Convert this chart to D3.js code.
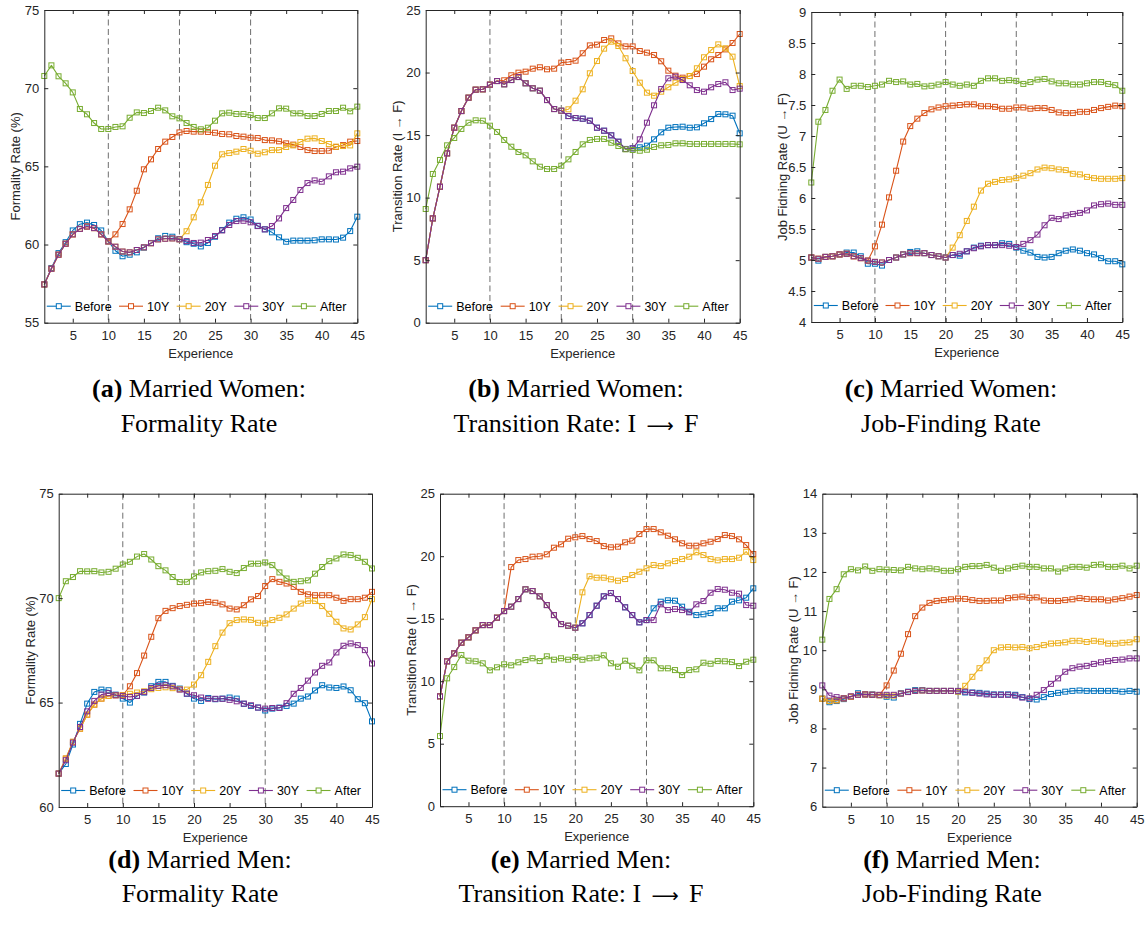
<!DOCTYPE html>
<html>
<head>
<meta charset="utf-8">
<script src="https://cdn.jsdelivr.net/npm/d3@7/dist/d3.min.js"></script>
<style>
  html, body { margin: 0; padding: 0; background: #ffffff; }
  svg { display: block; }
</style>
</head>
<body>
<svg id="chart" width="1145" height="933"></svg>
<script>
// ---------- data ----------
const experience = [1,2,3,4,5,6,7,8,9,10,11,12,13,14,15,16,17,18,19,20,21,22,23,24,25,
  26,27,28,29,30,31,32,33,34,35,36,37,38,39,40,41,42,43,44,45];
const seriesNames = ["Before", "10Y", "20Y", "30Y", "After"];
const xTicks = [5, 10, 15, 20, 25, 30, 35, 40, 45];
const reformLines = [10, 20, 30];

// Married women: formality rate (%)
const womenFormBefore = [57.45,58.5,59.45,60.15,60.9,61.3,61.4,61.25,60.9,60.2,
  59.6,59.25,59.35,59.5,59.8,60.1,60.4,60.55,60.5,60.35,
  60.15,60.05,59.88,60.1,60.5,60.93,61.4,61.65,61.74,61.6,
  61.2,60.97,60.78,60.46,60.18,60.25,60.25,60.25,60.27,60.33,
  60.33,60.32,60.44,60.86,61.78];
const womenForm10Y = [57.45,58.45,59.35,60.05,60.65,61.0,61.15,61.05,60.65,60.2,
  60.65,61.31,62.25,63.44,64.81,65.45,66.11,66.58,66.88,67.17,
  67.26,67.22,67.22,67.2,67.15,67.07,67.05,66.94,66.9,66.83,
  66.81,66.68,66.66,66.6,66.47,66.39,66.24,66.04,65.98,65.98,
  66.0,66.24,66.36,66.58,66.62];
const womenForm20Y = [57.45,58.45,59.35,60.05,60.65,61.0,61.15,61.05,60.65,60.2,
  59.86,59.55,59.5,59.65,59.82,60.08,60.33,60.37,60.39,60.33,
  60.85,61.74,62.7,63.81,65.04,65.77,65.85,65.94,66.11,66.0,
  65.81,65.9,66.04,66.04,66.24,66.34,66.56,66.77,66.79,66.62,
  66.43,66.26,66.3,66.34,67.11];
const womenForm30Y = [57.45,58.45,59.35,60.05,60.65,61.0,61.15,61.05,60.65,60.2,
  59.86,59.55,59.5,59.65,59.82,60.08,60.33,60.37,60.39,60.33,
  60.22,60.1,60.12,60.29,60.54,60.9,61.25,61.5,61.52,61.42,
  61.18,60.97,61.18,61.67,62.33,62.85,63.49,63.93,64.1,64.02,
  64.36,64.62,64.66,64.87,64.98];
const womenFormAfter = [70.78,71.46,70.76,70.31,69.73,68.67,68.33,67.77,67.39,67.39,
  67.52,67.56,68.11,68.45,68.41,68.54,68.75,68.58,68.2,68.07,
  67.77,67.52,67.37,67.47,67.92,68.39,68.43,68.35,68.35,68.28,
  68.09,68.09,68.39,68.71,68.69,68.39,68.39,68.22,68.22,68.35,
  68.54,68.54,68.75,68.52,68.82];

// Married women: transition rate I -> F
const womenTransBefore = [5.0,8.34,10.87,13.54,15.59,16.92,17.99,18.63,18.66,19.03,
  19.32,19.06,19.4,19.64,19.14,18.74,18.55,17.8,17.08,16.95,
  16.52,16.36,16.31,16.15,15.59,15.35,14.98,14.47,13.89,13.94,
  14.02,14.15,14.66,15.22,15.59,15.64,15.67,15.59,15.62,15.94,
  16.28,16.68,16.66,16.55,15.14];
const womenTrans10Y = [5.0,8.34,10.87,13.54,15.59,16.92,17.99,18.63,18.66,19.03,
  19.32,19.38,19.78,19.99,20.07,20.31,20.42,20.26,20.31,20.79,
  20.84,20.95,21.54,22.17,22.23,22.6,22.73,22.33,22.09,22.09,
  21.72,21.59,21.4,20.9,20.15,19.75,19.59,19.72,19.88,20.47,
  21.06,21.4,21.85,22.36,23.08];
const womenTrans20Y = [5.0,8.34,10.87,13.54,15.59,16.92,17.99,18.63,18.66,19.03,
  19.32,19.06,19.4,19.64,19.14,18.74,18.55,17.8,17.08,16.95,
  17.06,17.75,18.66,19.94,20.92,21.91,22.47,22.12,21.14,20.12,
  19.19,18.39,18.15,18.47,18.82,19.19,19.48,19.72,20.34,21.22,
  21.8,22.25,21.94,21.27,18.92];
const womenTrans30Y = [5.0,8.34,10.87,13.54,15.59,16.92,17.99,18.63,18.66,19.03,
  19.32,19.06,19.4,19.64,19.14,18.74,18.55,17.8,17.08,16.95,
  16.52,16.36,16.31,16.15,15.59,15.35,14.98,14.47,13.89,13.94,
  14.66,15.99,17.38,18.68,19.54,19.67,19.4,18.98,18.6,18.47,
  18.82,19.08,19.22,18.6,18.71];
const womenTransAfter = [9.09,11.89,13.01,14.18,14.77,15.49,15.99,16.18,16.15,15.75,
  15.25,14.61,14.07,13.65,13.38,12.9,12.47,12.29,12.29,12.55,
  13.06,13.65,14.26,14.61,14.69,14.69,14.39,14.13,13.86,13.81,
  13.75,13.83,14.05,14.18,14.21,14.34,14.34,14.29,14.29,14.29,
  14.29,14.29,14.29,14.29,14.26];

// Married women: job-finding rate U -> F
const womenJobBefore = [5.04,4.99,5.05,5.06,5.09,5.12,5.12,5.06,4.94,4.94,
  4.91,5.0,5.04,5.09,5.13,5.14,5.11,5.08,5.06,5.04,
  5.08,5.07,5.14,5.2,5.23,5.24,5.24,5.27,5.26,5.2,
  5.15,5.12,5.05,5.04,5.05,5.11,5.15,5.17,5.15,5.11,
  5.09,5.03,4.98,4.98,4.93];
const womenJob10Y = [5.04,5.02,5.05,5.06,5.09,5.1,5.06,5.03,4.99,5.22,
  5.57,6.01,6.44,6.91,7.16,7.28,7.37,7.43,7.46,7.48,
  7.49,7.5,7.51,7.51,7.48,7.48,7.47,7.44,7.44,7.46,
  7.46,7.44,7.45,7.45,7.42,7.38,7.37,7.37,7.39,7.39,
  7.42,7.45,7.47,7.49,7.48];
const womenJob20Y = [5.04,5.02,5.05,5.06,5.09,5.1,5.06,5.03,4.99,4.97,
  4.96,5.0,5.04,5.09,5.11,5.11,5.11,5.08,5.06,5.04,
  5.2,5.4,5.63,5.86,6.12,6.23,6.26,6.29,6.3,6.32,
  6.36,6.4,6.46,6.49,6.48,6.46,6.45,6.39,6.38,6.34,
  6.32,6.31,6.31,6.31,6.32];
const womenJob30Y = [5.04,5.02,5.05,5.06,5.09,5.1,5.06,5.03,4.99,4.97,
  4.96,5.0,5.04,5.09,5.11,5.11,5.11,5.08,5.06,5.04,
  5.08,5.1,5.14,5.19,5.22,5.24,5.24,5.24,5.23,5.21,
  5.26,5.32,5.41,5.56,5.68,5.66,5.72,5.74,5.76,5.8,
  5.88,5.9,5.91,5.89,5.89];
const womenJobAfter = [6.25,7.23,7.42,7.73,7.91,7.76,7.81,7.81,7.79,7.81,
  7.83,7.89,7.87,7.88,7.83,7.84,7.8,7.81,7.83,7.87,
  7.83,7.81,7.83,7.81,7.89,7.93,7.93,7.89,7.9,7.89,
  7.84,7.87,7.91,7.92,7.88,7.85,7.85,7.83,7.83,7.85,
  7.87,7.87,7.84,7.82,7.73];

// Married men: formality rate (%)
const menFormBefore = [61.6,62.06,62.99,63.98,64.95,65.51,65.62,65.59,65.38,65.19,
  65.0,65.32,65.48,65.78,65.99,65.99,65.8,65.67,65.42,65.19,
  65.08,65.22,65.16,65.19,65.24,65.19,64.94,64.84,64.76,64.62,
  64.71,64.76,64.84,64.95,65.19,65.29,65.58,65.83,65.72,65.7,
  65.77,65.59,65.16,64.97,64.1];
const menForm10Y = [61.6,62.32,63.12,63.75,64.42,64.9,65.19,65.32,65.35,65.35,
  65.78,66.41,67.25,68.15,69.04,69.39,69.52,69.62,69.68,69.74,
  69.76,69.82,69.78,69.7,69.5,69.46,69.66,69.94,70.1,70.58,
  70.91,70.78,70.7,70.54,70.3,70.18,70.14,70.14,70.14,70.02,
  69.87,69.95,69.95,70.02,70.3];
const menForm20Y = [61.6,62.32,63.12,63.75,64.42,64.9,65.19,65.32,65.35,65.35,
  65.42,65.48,65.54,65.64,65.7,65.73,65.69,65.64,65.62,65.86,
  66.31,66.95,67.7,68.35,68.8,68.95,68.98,68.96,68.82,68.79,
  68.95,69.06,69.22,69.5,69.74,69.87,69.86,69.62,69.25,68.87,
  68.55,68.5,68.74,69.09,69.95];
const menForm30Y = [61.6,62.24,63.08,63.83,64.58,65.08,65.38,65.45,65.35,65.32,
  65.27,65.32,65.5,65.7,65.8,65.83,65.77,65.62,65.43,65.35,
  65.24,65.18,65.18,65.18,65.13,65.06,64.95,64.87,64.76,64.71,
  64.74,64.74,64.97,65.42,65.7,66.05,66.44,66.76,66.92,67.4,
  67.72,67.83,67.75,67.51,66.87];
const menFormAfter = [70.0,70.81,71.01,71.29,71.28,71.29,71.23,71.26,71.41,71.61,
  71.74,71.99,72.11,71.85,71.53,71.33,71.01,70.77,70.78,71.04,
  71.23,71.29,71.31,71.39,71.26,71.2,71.44,71.65,71.65,71.71,
  71.58,71.23,70.94,70.78,70.81,70.85,71.17,71.49,71.77,71.9,
  72.09,72.06,71.93,71.74,71.42];

// Married men: transition rate I -> F
const menTransBefore = [8.79,11.59,12.23,13.08,13.51,14.07,14.49,14.49,15.08,15.61,
  15.96,16.57,17.35,17.21,16.79,16.09,15.29,14.57,14.44,14.28,
  14.63,15.29,16.04,16.79,17.05,16.57,15.91,15.29,14.71,14.89,
  15.83,16.36,16.47,16.44,15.96,15.56,15.29,15.35,15.45,15.83,
  15.83,16.36,16.47,16.68,17.43];
const menTrans10Y = [8.79,11.59,12.23,13.08,13.51,14.07,14.49,14.49,15.08,15.61,
  19.13,19.69,19.77,19.96,19.99,20.15,20.68,20.95,21.4,21.51,
  21.61,21.37,21.21,20.81,20.71,20.76,21.11,21.24,21.77,22.17,
  22.17,21.91,21.64,21.35,21.03,20.84,20.84,21.03,21.16,21.37,
  21.69,21.61,21.35,20.89,20.17];
const menTrans20Y = [8.79,11.59,12.23,13.08,13.51,14.07,14.49,14.49,15.08,15.61,
  15.96,16.57,17.35,17.21,16.79,16.09,15.29,14.57,14.44,14.28,
  17.11,18.39,18.28,18.28,18.15,18.04,18.17,18.49,18.76,19.03,
  19.29,19.21,19.43,19.61,19.77,19.96,20.31,20.09,19.77,19.67,
  19.77,19.77,19.88,20.36,19.69];
const menTrans30Y = [8.79,11.59,12.23,13.08,13.51,14.07,14.49,14.49,15.08,15.61,
  15.96,16.57,17.35,17.21,16.79,16.09,15.29,14.57,14.44,14.28,
  14.63,15.29,16.04,16.79,17.05,16.57,15.91,15.29,14.71,14.89,
  14.89,16.15,15.69,15.77,15.69,15.51,16.15,16.41,17.08,17.37,
  17.32,17.08,17.0,16.09,16.04];
const menTransAfter = [5.61,10.23,11.13,12.09,11.64,11.59,11.43,10.87,11.11,11.35,
  11.27,11.51,11.69,11.83,11.61,11.99,11.72,11.83,11.72,11.93,
  11.72,11.83,11.88,12.07,11.43,11.16,11.64,11.24,10.87,11.67,
  11.67,11.03,11.03,10.89,10.49,10.89,10.95,11.48,11.4,11.61,
  11.59,11.53,11.21,11.56,11.72];

// Married men: job-finding rate U -> F
const menJobBefore = [8.76,8.67,8.7,8.75,8.81,8.9,8.87,8.87,8.85,8.81,
  8.79,8.9,8.94,8.98,8.98,8.96,8.96,8.96,8.96,8.94,
  8.92,8.92,8.91,8.89,8.87,8.87,8.87,8.86,8.8,8.75,
  8.74,8.8,8.88,8.91,8.94,8.96,8.97,8.96,8.96,8.96,
  8.96,8.96,8.94,8.96,8.94];
const menJob10Y = [8.76,8.7,8.72,8.77,8.81,8.86,8.87,8.86,8.85,9.1,
  9.48,9.91,10.41,10.87,11.09,11.21,11.26,11.28,11.3,11.32,
  11.31,11.28,11.26,11.26,11.27,11.27,11.33,11.35,11.37,11.34,
  11.35,11.27,11.26,11.26,11.28,11.3,11.33,11.31,11.3,11.3,
  11.27,11.3,11.33,11.37,11.41];
const menJob20Y = [8.76,8.7,8.72,8.77,8.81,8.86,8.87,8.86,8.85,8.84,
  8.84,8.89,8.93,8.96,8.97,8.96,8.96,8.96,8.96,8.94,
  9.09,9.32,9.54,9.74,10.0,10.07,10.08,10.07,10.08,10.05,
  10.08,10.13,10.17,10.18,10.2,10.24,10.24,10.21,10.24,10.22,
  10.17,10.17,10.19,10.2,10.28];
const menJob30Y = [9.1,8.84,8.8,8.77,8.82,8.86,8.87,8.86,8.86,8.86,
  8.86,8.89,8.93,8.96,8.97,8.96,8.96,8.96,8.96,8.96,
  8.94,8.91,8.89,8.87,8.86,8.86,8.86,8.84,8.79,8.77,
  8.86,8.98,9.14,9.28,9.45,9.54,9.58,9.6,9.65,9.69,
  9.72,9.75,9.76,9.79,9.79];
const menJobAfter = [10.27,11.31,11.56,11.94,12.07,12.04,12.14,12.03,12.07,12.06,
  12.05,12.04,12.13,12.09,12.07,12.09,12.07,12.03,12.03,12.07,
  12.13,12.15,12.15,12.18,12.11,12.03,12.09,12.13,12.16,12.13,
  12.13,12.09,12.09,12.01,12.09,12.13,12.13,12.11,12.18,12.19,
  12.13,12.13,12.16,12.09,12.16];

// y-axis tick values
const formWomenTicks = [55, 60, 65, 70, 75];
const transTicks = [0, 5, 10, 15, 20, 25];
const jobWomenTicks = [4, 4.5, 5, 5.5, 6, 6.5, 7, 7.5, 8, 8.5, 9];
const formMenTicks = [60, 65, 70, 75];
const jobMenTicks = [6, 7, 8, 9, 10, 11, 12, 13, 14];

// ---------- styling / layout ----------
const colors = ["#0072BD", "#D95319", "#EDB120", "#7E2F8E", "#77AC30"];
const axisColor = "#262626";
const sansFont = "'Liberation Sans', Arial, Helvetica, sans-serif";
const serifFont = "'Liberation Serif', 'Times New Roman', Times, serif";
const arrowFont = "'DejaVu Sans', sans-serif";

// caption second lines as [text, isArrow] segments
const panels = [
  { tag: "(a)", who: "Married Women:", what: [["Formality Rate", false]],
    series: [womenFormBefore, womenForm10Y, womenForm20Y, womenForm30Y, womenFormAfter],
    yTicks: formWomenTicks, yLabel: "Formality Rate (%)",
    box: { l: 44.3, t: 10, r: 357.3, b: 322.7 }, capX: 199, capY: [397, 432] },
  { tag: "(b)", who: "Married Women:", what: [["Transition Rate: I ", false], ["\u2009\u27F6\u2009", true], [" F", false]],
    series: [womenTransBefore, womenTrans10Y, womenTrans20Y, womenTrans30Y, womenTransAfter],
    yTicks: transTicks, yLabel: "Transition Rate (I \u2192 F)",
    box: { l: 425.7, t: 10, r: 739.7, b: 322.7 }, capX: 576, capY: [397, 432] },
  { tag: "(c)", who: "Married Women:", what: [["Job-Finding Rate", false]],
    series: [womenJobBefore, womenJob10Y, womenJob20Y, womenJob30Y, womenJobAfter],
    yTicks: jobWomenTicks, yLabel: "Job Fidning Rate (U \u2192 F)",
    box: { l: 811.3, t: 12, r: 1122.3, b: 322 }, capX: 951, capY: [397, 432] },
  { tag: "(d)", who: "Married Men:", what: [["Formality Rate", false]],
    series: [menFormBefore, menForm10Y, menForm20Y, menForm30Y, menFormAfter],
    yTicks: formMenTicks, yLabel: "Formality Rate (%)",
    box: { l: 58.7, t: 493.7, r: 372, b: 807 }, capX: 200, capY: [868, 902] },
  { tag: "(e)", who: "Married Men:", what: [["Transition Rate: I ", false], ["\u2009\u27F6\u2009", true], [" F", false]],
    series: [menTransBefore, menTrans10Y, menTrans20Y, menTrans30Y, menTransAfter],
    yTicks: transTicks, yLabel: "Transition Rate (I \u2192 F)",
    box: { l: 440, t: 493.7, r: 753.3, b: 806.2 }, capX: 581, capY: [868, 902] },
  { tag: "(f)", who: "Married Men:", what: [["Job-Finding Rate", false]],
    series: [menJobBefore, menJob10Y, menJob20Y, menJob30Y, menJobAfter],
    yTicks: jobMenTicks, yLabel: "Job Fidning Rate (U \u2192 F)",
    box: { l: 822.3, t: 493.7, r: 1136.7, b: 806.7 }, capX: 952, capY: [868, 902] }
];

const svg = d3.select("#chart");
svg.append("rect").attr("width", 1145).attr("height", 933).attr("fill", "#ffffff");

const tickLen = 4;
const markerSize = 5;

panels.forEach(p => {
  const { l, t, r, b } = p.box;
  const x = d3.scaleLinear().domain([1, 45]).range([l, r]);
  const y = d3.scaleLinear().domain(d3.extent(p.yTicks)).range([b, t]);
  const g = svg.append("g");

  // dashed reform markers
  g.selectAll("line.reform").data(reformLines).enter().append("line")
    .attr("class", "reform")
    .attr("x1", d => x(d)).attr("x2", d => x(d))
    .attr("y1", t).attr("y2", b)
    .attr("stroke", "#6e6e6e").attr("stroke-width", 1)
    .attr("stroke-dasharray", "6,3.5");

  // series lines + square markers
  const line = d3.line().x((d, i) => x(experience[i])).y(d => y(d));
  p.series.forEach((vals, si) => {
    const sg = g.append("g");
    sg.append("path").datum(vals)
      .attr("d", line)
      .attr("fill", "none")
      .attr("stroke", colors[si])
      .attr("stroke-width", 1.1)
      .attr("stroke-linejoin", "round");
    sg.selectAll("rect").data(vals).enter().append("rect")
      .attr("x", (d, i) => x(experience[i]) - markerSize / 2)
      .attr("y", d => y(d) - markerSize / 2)
      .attr("width", markerSize).attr("height", markerSize)
      .attr("fill", "none")
      .attr("stroke", colors[si])
      .attr("stroke-width", 1);
  });

  // axes: inward ticks on all four sides
  const styleAxis = sel => {
    sel.selectAll("path.domain").attr("stroke", axisColor).attr("stroke-width", 1);
    sel.selectAll(".tick line").attr("stroke", axisColor).attr("stroke-width", 1);
    sel.selectAll(".tick text").attr("fill", axisColor)
      .style("font-family", sansFont).style("font-size", "13px");
  };
  g.append("g").attr("transform", `translate(0,${b})`)
    .call(d3.axisBottom(x).tickValues(xTicks).tickSizeInner(-tickLen).tickSizeOuter(0)
      .tickPadding(8).tickFormat(d3.format("d")))
    .call(styleAxis);
  g.append("g").attr("transform", `translate(0,${t})`)
    .call(d3.axisTop(x).tickValues(xTicks).tickSizeInner(-tickLen).tickSizeOuter(0)
      .tickFormat(""))
    .call(styleAxis);
  g.append("g").attr("transform", `translate(${l},0)`)
    .call(d3.axisLeft(y).tickValues(p.yTicks).tickSizeInner(-tickLen).tickSizeOuter(0)
      .tickPadding(5).tickFormat(d => String(d)))
    .call(styleAxis);
  g.append("g").attr("transform", `translate(${r},0)`)
    .call(d3.axisRight(y).tickValues(p.yTicks).tickSizeInner(-tickLen).tickSizeOuter(0)
      .tickFormat(""))
    .call(styleAxis);

  // axis titles
  g.append("text")
    .attr("x", (l + r) / 2).attr("y", b + 35)
    .attr("text-anchor", "middle")
    .attr("fill", axisColor)
    .style("font-family", sansFont).style("font-size", "13px")
    .text("Experience");
  g.append("text")
    .attr("transform", `translate(${l - 24},${(t + b) / 2}) rotate(-90)`)
    .attr("text-anchor", "middle")
    .attr("fill", axisColor)
    .style("font-family", sansFont).style("font-size", "13px")
    .text(p.yLabel);

  // horizontal legend along the bottom of the plot
  const lg = g.append("g").attr("transform", `translate(0,${b - 16.5})`);
  const lineLen = 24, gap = 4;
  const items = seriesNames.map((name, i) => {
    const it = lg.append("g");
    it.append("line").attr("x1", 0).attr("x2", lineLen).attr("y1", 0).attr("y2", 0)
      .attr("stroke", colors[i]).attr("stroke-width", 1.1);
    it.append("rect").attr("x", lineLen / 2 - markerSize / 2).attr("y", -markerSize / 2)
      .attr("width", markerSize).attr("height", markerSize)
      .attr("fill", "#ffffff").attr("stroke", colors[i]).attr("stroke-width", 1);
    const tx = it.append("text").attr("x", lineLen + gap).attr("y", 4.5)
      .attr("fill", "#000000")
      .style("font-family", sansFont).style("font-size", "12.5px")
      .text(name);
    return { g: it, w: lineLen + gap + tx.node().getComputedTextLength() };
  });
  const startX = l + 2.5, endX = r - 11;
  const totalW = d3.sum(items, d => d.w);
  const spacing = (endX - startX - totalW) / (items.length - 1);
  let cx = startX;
  items.forEach(it => {
    it.g.attr("transform", `translate(${cx},0)`);
    cx += it.w + spacing;
  });

  // sub-figure caption (two centred lines)
  const cap1 = svg.append("text")
    .attr("x", p.capX).attr("y", p.capY[0])
    .attr("text-anchor", "middle")
    .attr("fill", "#000000")
    .style("font-family", serifFont).style("font-size", "26px");
  cap1.append("tspan").style("font-weight", "bold").text(p.tag);
  cap1.append("tspan").text(" " + p.who);
  const cap2 = svg.append("text")
    .attr("x", p.capX).attr("y", p.capY[1])
    .attr("text-anchor", "middle")
    .attr("fill", "#000000")
    .style("font-family", serifFont).style("font-size", "26px")
    .attr("xml:space", "preserve");
  p.what.forEach(([txt, isArrow]) => {
    const ts = cap2.append("tspan").text(txt);
    if (isArrow) ts.style("font-family", arrowFont).style("font-size", "19px");
  });
});
</script>
</body>
</html>
